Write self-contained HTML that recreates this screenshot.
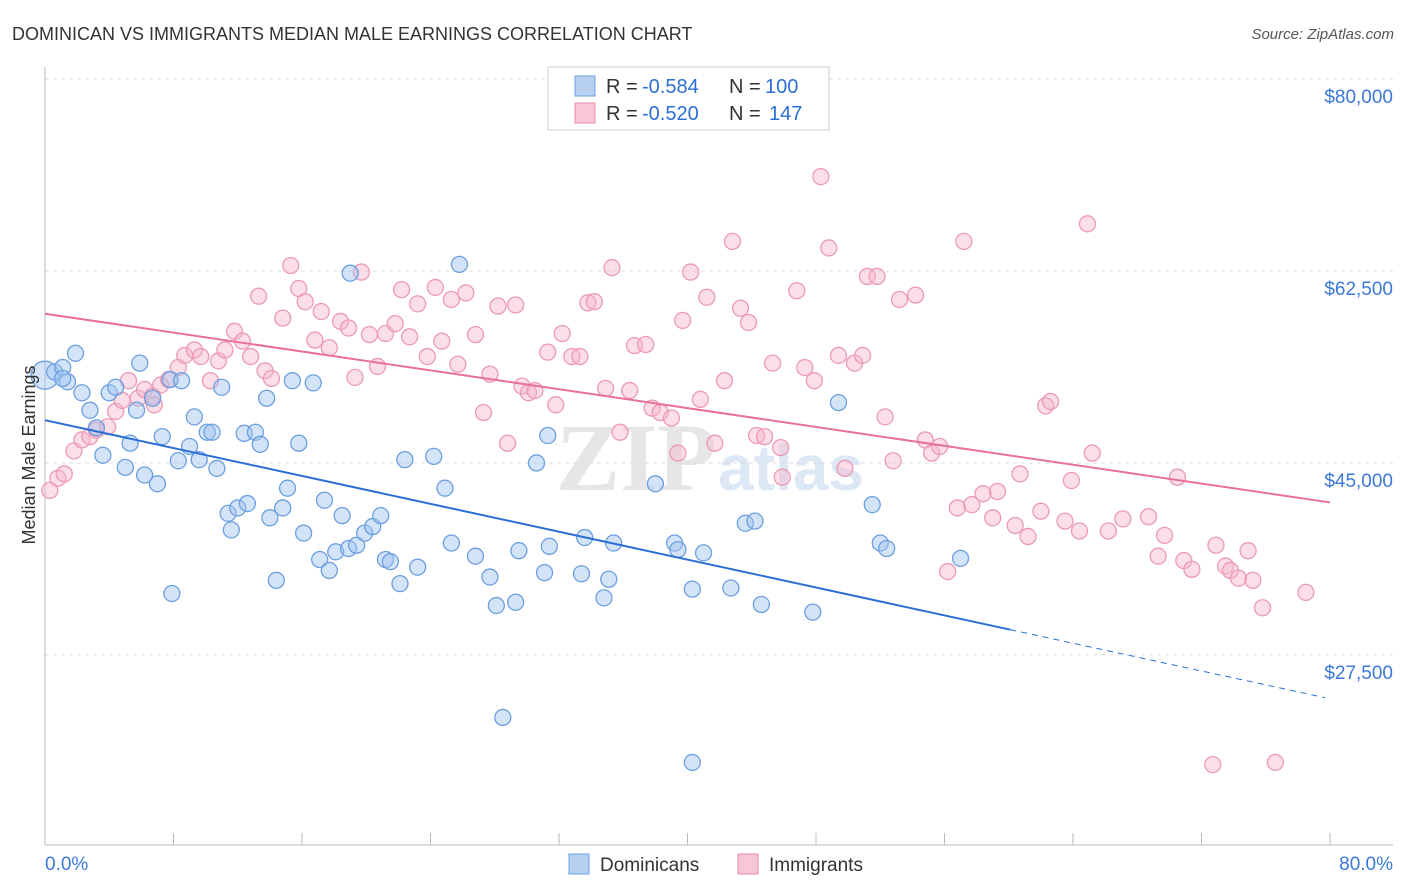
<!DOCTYPE html>
<html><head><meta charset="utf-8"><style>
body{margin:0;background:#fff;font-family:"Liberation Sans",sans-serif}
svg{display:block}
</style></head><body>
<svg id="chart" width="1406" height="892" viewBox="0 0 1406 892">
<text x="12" y="40" font-size="18" fill="#333">DOMINICAN VS IMMIGRANTS MEDIAN MALE EARNINGS CORRELATION CHART</text>
<text x="1394" y="39" font-size="15" fill="#555" text-anchor="end" font-style="italic">Source: ZipAtlas.com</text>
<text x="556" y="490" font-size="96" fill="#e6e6e6" font-family="Liberation Serif,serif" font-weight="bold">ZIP</text>
<text x="718" y="490" font-size="64" fill="#dce8f6" font-weight="bold">atlas</text>
<g id="grid"></g><g id="axes"></g><g id="marks"></g>
<text transform="translate(35,455) rotate(-90)" font-size="18" fill="#333" text-anchor="middle">Median Male Earnings</text>
<g>
<rect x="548" y="67" width="281" height="63" fill="#fff" stroke="#ccc"/>
<rect x="575" y="76" width="20" height="20" fill="#b7d0f2" stroke="#6a9fe0"/>
<text x="606" y="93" font-size="20" fill="#333">R =</text>
<text x="642" y="93" font-size="20" fill="#2b6fd6">-0.584</text>
<text x="729" y="93" font-size="20" fill="#333">N =</text>
<text x="765" y="93" font-size="20" fill="#2b6fd6">100</text>
<rect x="575" y="103" width="20" height="20" fill="#f8c6d4" stroke="#e88aa8"/>
<text x="606" y="120" font-size="20" fill="#333">R =</text>
<text x="642" y="120" font-size="20" fill="#2b6fd6">-0.520</text>
<text x="729" y="120" font-size="20" fill="#333">N =</text>
<text x="769" y="120" font-size="20" fill="#2b6fd6">147</text>
</g>
<g>
<rect x="569" y="854" width="20" height="20" fill="#b7d0f2" stroke="#6a9fe0"/>
<text x="600" y="871" font-size="19" fill="#333">Dominicans</text>
<rect x="738" y="854" width="20" height="20" fill="#f8c6d4" stroke="#e88aa8"/>
<text x="769" y="871" font-size="19" fill="#333">Immigrants</text>
</g>
</svg>
<script>
const xTicks=[0,8,16,24,32,40,48,56,64,72,80];
const yTicks=[27500,45000,62500,80000];
const yTickLabels=["$27,500","$45,000","$62,500","$80,000"];
const xEndLabels=["0.0%","80.0%"];
const domX=[0.0,0.6,1.1,1.9,1.4,2.3,1.1,2.8,3.2,3.6,4.0,4.4,5.0,5.3,5.7,5.9,6.2,6.7,7.0,7.3,7.9,7.8,8.3,8.5,9.0,9.3,9.6,10.1,10.4,10.7,11.0,11.4,11.6,12.0,12.4,12.6,13.1,13.4,13.8,14.0,14.4,14.8,15.1,15.4,15.8,16.1,16.7,17.1,17.4,17.7,18.1,18.5,18.9,19.0,19.4,19.9,20.4,20.9,21.2,21.5,22.1,22.4,23.2,24.2,24.9,25.3,25.8,26.8,27.7,28.1,28.5,29.3,29.5,30.6,31.1,31.3,31.4,33.4,33.6,34.8,35.1,35.4,38.0,39.2,39.4,40.3,40.3,41.0,42.7,43.6,44.2,44.6,47.8,49.4,51.5,52.0,52.4,57.0];
const domY=[53.0,53.3,53.7,55.0,52.4,51.4,52.7,49.8,48.2,45.7,51.4,51.9,44.6,46.8,49.8,54.1,43.9,50.9,43.1,47.4,33.1,52.6,45.2,52.5,46.5,49.2,45.3,47.8,47.8,44.5,51.9,40.4,38.9,40.9,47.7,41.3,47.8,46.7,50.9,40.0,34.3,40.9,42.7,52.5,46.8,38.6,52.3,36.2,41.6,35.2,36.9,40.2,37.2,62.3,37.5,38.6,39.2,40.2,36.2,36.0,34.0,45.3,35.5,45.6,42.7,37.7,63.1,36.5,34.6,32.0,21.8,32.3,37.0,45.0,35.0,47.5,37.4,34.9,38.2,32.7,34.4,37.7,43.1,37.7,37.1,33.5,17.7,36.8,33.6,39.5,39.7,32.1,31.4,50.5,41.2,37.7,37.2,36.3];
const immX=[0.3,0.8,1.2,1.8,2.3,2.8,3.2,3.9,4.4,4.8,5.2,5.8,6.2,6.7,6.8,7.2,7.7,8.3,8.7,9.3,9.7,10.3,10.8,11.2,11.8,12.3,12.8,13.3,13.7,14.1,14.8,15.3,15.8,16.2,16.8,17.2,17.7,18.4,18.9,19.3,19.7,20.2,20.7,21.2,21.8,22.2,22.7,23.2,23.8,24.3,24.7,25.3,25.7,26.2,26.8,27.3,27.7,28.2,28.8,29.3,29.7,30.1,30.5,31.3,31.8,32.2,32.8,33.3,33.8,34.2,34.9,35.3,35.8,36.4,36.7,37.4,37.8,38.3,39.0,39.4,39.7,40.2,40.8,41.2,41.7,42.3,42.8,43.3,43.8,44.3,44.8,45.3,45.9,45.8,46.8,47.3,47.9,48.3,48.8,49.4,49.8,50.4,50.9,51.2,51.8,52.3,52.8,53.2,54.2,54.8,55.2,55.7,56.2,56.8,57.2,57.7,58.4,59.0,59.3,60.4,60.7,61.2,62.0,62.3,62.6,63.5,63.9,64.4,64.9,65.2,66.2,67.1,68.7,69.3,69.7,70.5,70.9,71.4,72.7,72.9,73.5,73.8,74.3,74.9,75.2,75.8,76.6,78.5];
const immY=[42.5,43.6,44.0,46.1,47.1,47.4,48.0,48.3,49.7,50.7,52.5,50.9,51.7,51.1,50.3,52.1,52.6,53.7,54.8,55.3,54.7,52.5,54.3,55.3,57.0,56.1,54.7,60.2,53.4,52.7,58.2,63.0,60.9,59.7,56.2,58.8,55.5,57.9,57.3,52.8,62.4,56.7,53.8,56.8,57.7,60.8,56.5,59.5,54.7,61.0,56.1,59.9,54.0,60.5,56.7,49.6,53.1,59.3,46.8,59.4,52.0,51.4,51.6,55.1,50.3,56.8,54.7,54.7,59.6,59.7,51.8,62.8,47.8,51.6,55.7,55.8,50.0,49.6,49.1,45.9,58.0,62.4,50.8,60.1,46.8,52.5,65.2,59.1,57.8,47.5,47.4,54.1,43.7,46.4,60.7,53.7,52.5,71.1,64.6,54.8,44.5,54.1,54.8,62.0,62.0,49.2,45.2,59.9,60.3,47.1,45.9,46.5,35.1,40.9,65.2,41.2,42.2,40.0,42.4,39.3,44.0,38.3,40.6,50.2,50.6,39.7,43.4,38.8,66.8,45.9,38.8,39.9,40.1,36.5,38.4,43.7,36.1,35.3,17.5,37.5,35.6,35.2,34.5,37.0,34.3,31.8,17.7,33.2];
const domTrend=[48.9,29.8,23.6];const domTrendX=[0,60.1,79.7];
const immTrend=[58.6,41.4];const immTrendX=[0,80];
const NS='http://www.w3.org/2000/svg';
const sx=v=>45+v*1285/80;
const sy=v=>79+(80-v)*10.97;
const syD=d=>sy(d/1000);
const grid=document.getElementById('grid'),axes=document.getElementById('axes'),marks=document.getElementById('marks');
function mk(p,tag,at){const e=document.createElementNS(NS,tag);for(const k in at)e.setAttribute(k,at[k]);p.appendChild(e);return e;}
yTicks.forEach((t,i)=>{
const l=mk(grid,'line',{x1:45,x2:1393,y1:syD(t),y2:syD(t),stroke:'#ddd','stroke-dasharray':'4,4'});


const tx=mk(axes,'text',{x:1393,y:syD(t)+24,'font-size':19,fill:'#3b78d8','text-anchor':'end'});tx.textContent=yTickLabels[i];


});
mk(axes,'line',{x1:45,x2:45,y1:67,y2:845,stroke:'#bbb'});
mk(axes,'line',{x1:45,x2:1393,y1:845,y2:845,stroke:'#bbb'});
xTicks.forEach(t=>{const l=mk(axes,'line',{x1:sx(t),x2:sx(t),y1:833,y2:845,stroke:'#bbb'});

});
const xl0=mk(axes,'text',{x:45,y:870,'font-size':19,fill:'#3b78d8'});xl0.textContent=xEndLabels[0];


const xl1=mk(axes,'text',{x:1393,y:870,'font-size':19,fill:'#3b78d8','text-anchor':'end'});xl1.textContent=xEndLabels[1];


immX.forEach((x,i)=>{const c=mk(marks,'circle',{cx:sx(x),cy:sy(immY[i]),r:8,fill:'rgba(246,182,202,0.45)',stroke:'#eb9ab4','stroke-width':1.3});

});
domX.forEach((x,i)=>{const c=mk(marks,'circle',{cx:sx(x),cy:sy(domY[i]),r:i==0?14:8,fill:'rgba(160,195,240,0.45)',stroke:'#6c9fe0','stroke-width':1.3});

});
const t1=mk(marks,'line',{x1:sx(domTrendX[0]),y1:sy(domTrend[0]),x2:sx(domTrendX[1]),y2:sy(domTrend[1]),stroke:'#2b6fd6','stroke-width':2});


const t2=mk(marks,'line',{x1:sx(domTrendX[1]),y1:sy(domTrend[1]),x2:sx(domTrendX[2]),y2:sy(domTrend[2]),stroke:'#2b6fd6','stroke-width':1,'stroke-dasharray':'6,5'});


const t3=mk(marks,'line',{x1:sx(immTrendX[0]),y1:sy(immTrend[0]),x2:sx(immTrendX[1]),y2:sy(immTrend[1]),stroke:'#e8709a','stroke-width':2});


</script>
</body></html>
